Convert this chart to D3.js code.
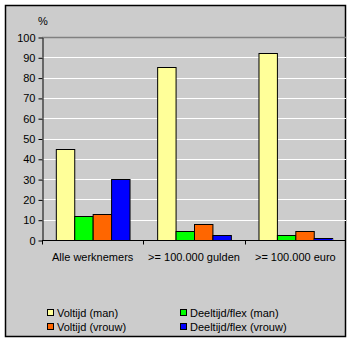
<!DOCTYPE html>
<html>
<head>
<meta charset="utf-8">
<script src="https://cdn.jsdelivr.net/npm/d3@7"></script>
<style>
  html, body { margin: 0; padding: 0; background: #ffffff; }
  svg { display: block; font-family: "Liberation Sans", Arial, sans-serif; font-size: 11px; }
</style>
</head>
<body>
<svg id="chart" width="352" height="343"></svg>
<script>
// Categories and series
const categories = ["Alle werknemers", ">= 100.000 gulden", ">= 100.000 euro"];
const seriesNames = ["Voltijd (man)", "Deeltijd/flex (man)", "Voltijd (vrouw)", "Deeltijd/flex (vrouw)"];
const seriesColors = ["#ffff99", "#00ff00", "#ff6600", "#0000ff"];
const voltijdMan = [45, 85, 92];
const deeltijdMan = [11.7, 4.4, 2.3];
const voltijdVrouw = [12.7, 7.7, 4.4];
const deeltijdVrouw = [30, 2.3, 1];
const yTicks = [0, 10, 20, 30, 40, 50, 60, 70, 80, 90, 100];

const values = [voltijdMan, deeltijdMan, voltijdVrouw, deeltijdVrouw];

const svg = d3.select("#chart");

// Chart frame
svg.append("rect")
  .attr("x", 5.5).attr("y", 5.5)
  .attr("width", 340).attr("height", 331)
  .attr("fill", "#cccccc")
  .attr("stroke", "#000").attr("stroke-width", 1.5);

const plot = { left: 42, right: 346, top: 37, bottom: 240 };

const x0 = d3.scaleBand()
  .domain(categories)
  .range([plot.left, plot.right])
  .paddingInner(0).paddingOuter(0);

const x1 = d3.scaleBand()
  .domain(d3.range(seriesNames.length))
  .range([0, x0.bandwidth()])
  .paddingOuter(0.75).paddingInner(0);

const y = d3.scaleLinear().domain([0, 100]).range([plot.bottom, plot.top]);

// Gridlines
svg.append("g").selectAll("line")
  .data(yTicks.filter(t => t > 0))
  .join("line")
  .attr("x1", plot.left).attr("x2", plot.right)
  .attr("y1", d => Math.round(y(d)) + 0.5).attr("y2", d => Math.round(y(d)) + 0.5)
  .attr("stroke", d => d === 100 ? "#808080" : "#ffffff")
  .attr("stroke-width", d => d === 100 ? 1.5 : 1);

// Bars
const groups = svg.append("g").selectAll("g")
  .data(categories)
  .join("g")
  .attr("transform", c => `translate(${x0(c)},0)`);

groups.selectAll("rect")
  .data((c, i) => values.map((s, k) => ({ k, v: s[i] })))
  .join("rect")
  .attr("x", d => x1(d.k) + 0.5)
  .attr("y", d => Math.round(y(d.v)) + 0.5)
  .attr("width", x1.bandwidth())
  .attr("height", d => plot.bottom - Math.round(y(d.v)))
  .attr("fill", d => seriesColors[d.k])
  .attr("stroke", "#000").attr("stroke-width", 1);

// Y axis
const yAxis = svg.append("g")
  .attr("transform", `translate(${plot.left + 0.5},0.5)`)
  .call(d3.axisLeft(y).tickValues(yTicks).tickSize(4).tickPadding(3).tickSizeOuter(0));
yAxis.select(".domain").attr("stroke", "#000");
yAxis.selectAll("text").attr("font-size", 11).attr("font-family", "Liberation Sans, Arial, sans-serif").attr("fill", "#000");

// X axis
const xAxis = svg.append("g")
  .attr("transform", `translate(0,${plot.bottom + 0.5})`);
xAxis.append("line")
  .attr("x1", plot.left).attr("x2", plot.right)
  .attr("stroke", "#000");
const bounds = categories.map(c => x0(c));
xAxis.selectAll("line.tick")
  .data(bounds)
  .join("line").attr("class", "tick")
  .attr("x1", d => Math.round(d) + 0.5).attr("x2", d => Math.round(d) + 0.5)
  .attr("y1", 0).attr("y2", 4)
  .attr("stroke", "#000");
xAxis.selectAll("text")
  .data(categories)
  .join("text")
  .attr("x", c => x0(c) + x0.bandwidth() / 2)
  .attr("y", 20)
  .attr("text-anchor", "middle")
  .attr("fill", "#000")
  .text(c => c);

// Unit label
svg.append("text")
  .attr("x", 43).attr("y", 25)
  .attr("text-anchor", "middle")
  .text("%");

// Legend
const legendPos = [[47, 313], [180, 313], [47, 327], [180, 327]];
const legend = svg.append("g").selectAll("g")
  .data(d3.range(seriesNames.length))
  .join("g")
  .attr("transform", (k, i) => `translate(${legendPos[i][0]},${legendPos[i][1]})`);
legend.append("rect")
  .attr("x", 0.5).attr("y", -3.5)
  .attr("width", 6).attr("height", 6)
  .attr("fill", k => seriesColors[k])
  .attr("stroke", "#000");
legend.append("text")
  .attr("x", 10).attr("y", 4)
  .text(k => seriesNames[k]);
</script>
</body>
</html>
